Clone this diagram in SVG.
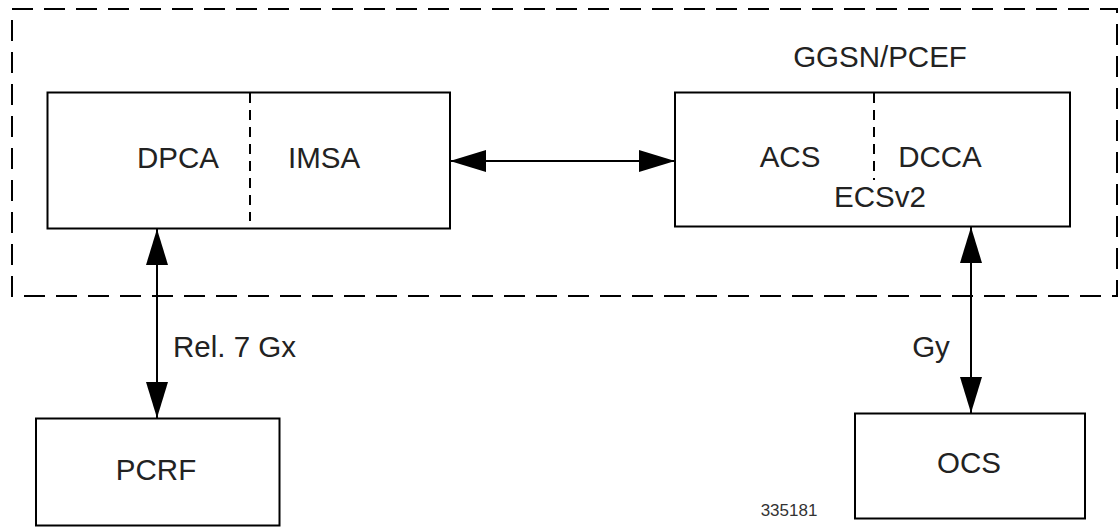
<svg xmlns="http://www.w3.org/2000/svg" width="1119" height="527" viewBox="0 0 1119 527">
<style>
.box{fill:#fff;stroke:#000;stroke-width:2}
.frame{fill:none;stroke:#000;stroke-width:2;stroke-dasharray:21 11}
.div{stroke:#000;stroke-width:2;stroke-dasharray:10 7}
.lbl{font-family:"Liberation Sans",Arial,sans-serif;font-size:29.5px;fill:#222;text-anchor:middle}
.conn{stroke:#000;stroke-width:2;fill:none;marker-start:url(#ah);marker-end:url(#ah)}
</style>
<defs>
<marker id="ah" markerUnits="userSpaceOnUse" markerWidth="40" markerHeight="26" viewBox="0 -13 40 26" refX="36" refY="0" orient="auto-start-reverse">
<path d="M0,-11 L36,0 L0,11 Z" fill="#000"/>
</marker>
</defs>
<g id="ggsn">
<rect class="frame" x="12" y="9" width="1105" height="287"/>
<text class="lbl" x="880" y="67">GGSN/PCEF</text>
</g>
<g id="dpca-imsa">
<rect class="box" x="47.5" y="92.5" width="402.5" height="136"/>
<line class="div" x1="250" y1="93" x2="250" y2="221"/>
<text class="lbl" x="178" y="168">DPCA</text>
<text class="lbl" x="324" y="168">IMSA</text>
</g>
<g id="ecsv2">
<rect class="box" x="675" y="92.5" width="395" height="134"/>
<line class="div" x1="874" y1="93" x2="874" y2="180"/>
<text class="lbl" x="790" y="167">ACS</text>
<text class="lbl" x="940" y="167">DCCA</text>
<text class="lbl" x="880" y="207">ECSv2</text>
</g>
<g id="pcrf">
<rect class="box" x="36" y="418.5" width="243.5" height="107"/>
<text class="lbl" x="156" y="480">PCRF</text>
</g>
<g id="ocs">
<rect class="box" x="855" y="413.5" width="230" height="105"/>
<text class="lbl" x="969" y="473">OCS</text>
</g>
<g id="connectors">
<line class="conn" x1="450" y1="161" x2="675" y2="161"/>
<line class="conn" x1="157" y1="229" x2="157" y2="418"/>
<line class="conn" x1="971" y1="227" x2="971" y2="413"/>
<text class="lbl" x="173" y="357" style="text-anchor:start">Rel. 7 Gx</text>
<text class="lbl" x="931" y="357">Gy</text>
</g>
<text x="789" y="516" style="font-family:'Liberation Sans',Arial,sans-serif;font-size:17px;fill:#333;text-anchor:middle">335181</text>
</svg>
